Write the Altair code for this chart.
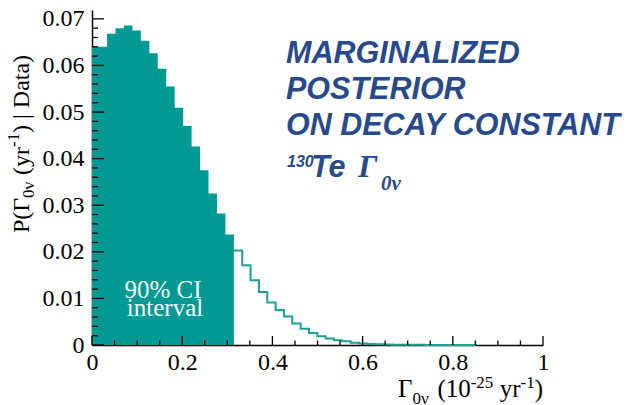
import altair as alt
import pandas as pd

# ---------------- data ----------------
ci_edges = [0.0, 0.0333, 0.0521, 0.0708, 0.0896, 0.1083, 0.1271, 0.1458, 0.1646,
            0.1833, 0.2021, 0.2208, 0.2396, 0.2583, 0.2771, 0.2958, 0.3146]
ci_heights = [0.0640, 0.0668, 0.0680, 0.0686, 0.0675, 0.0653, 0.0626, 0.0593,
              0.0555, 0.0509, 0.0470, 0.0426, 0.0375, 0.0325, 0.0282, 0.0237]

tail_edges = [0.3146, 0.3331, 0.3516, 0.3701, 0.3886, 0.4071, 0.4256, 0.4441,
              0.4626, 0.4811, 0.4996, 0.5181, 0.5366, 0.5551, 0.5736, 0.5921,
              0.6106, 0.6291, 0.6476, 0.6661, 0.6846, 0.7031, 0.7216, 0.7401,
              0.7586, 0.7771, 0.7956, 0.8141, 0.8326, 0.8511]
tail_heights = [0.0203, 0.0171, 0.0139, 0.0114, 0.0091, 0.0075, 0.0061, 0.0046,
                0.0035, 0.0026, 0.0019, 0.0014, 0.0010, 0.0008, 0.0005, 0.0003,
                0.0002, 0.00015, 0.0001, 0.00008, 0.00006, 0.00004, 0.00003,
                0.00002, 0.00002, 0.00001, 0.00001, 0.00001, 0.00001]

y_major = [0, 0.01, 0.02, 0.03, 0.04, 0.05, 0.06, 0.07]
y_minor = [0.002, 0.004, 0.006, 0.008, 0.012, 0.014, 0.016, 0.018, 0.022, 0.024,
           0.026, 0.028, 0.032, 0.034, 0.036, 0.038, 0.042, 0.044, 0.046, 0.048,
           0.052, 0.054, 0.056, 0.058, 0.062, 0.064, 0.066, 0.068]
x_major = [0, 0.2, 0.4, 0.6, 0.8, 1.0]
x_minor = [0.05, 0.1, 0.15, 0.25, 0.3, 0.35, 0.45, 0.5, 0.55, 0.65, 0.7, 0.75,
           0.85, 0.9, 0.95]

# ---------------- layout ----------------
X0, Y0 = 92, 10          # plot origin in the page
W, H = 451, 335
FILL = "#009994"
LINE = "#1f9f99"
BLUE = "#284a8c"
SERIF = "Liberation Serif"
SANS = "Liberation Sans"

xscale = alt.Scale(domain=[0, 1], nice=False, zero=False)
yscale = alt.Scale(domain=[0, 0.0719], nice=False, zero=True)

fill_df = pd.DataFrame({
    "x": ci_edges,
    "h": ci_heights + [ci_heights[-1]],
})
line_df = pd.DataFrame({
    "x": tail_edges,
    "h": tail_heights + [0.0],
    "o": list(range(len(tail_edges))),
})

fill = alt.Chart(fill_df).mark_area(color=FILL, opacity=1, interpolate="step-after").encode(
    x=alt.X("x:Q", scale=xscale, title=None,
            axis=alt.Axis(values=x_major, ticks=False, grid=False,
                          domainColor="black", domainWidth=1.5,
                          labelFont=SERIF, labelFontSize=24, labelColor="black",
                          labelPadding=5, labelFlush=False, labelOverlap=False,
                          labelExpr="datum.value == 0 ? '0' : (datum.value == 1 ? '1' : format(datum.value, '.1f'))")),
    y=alt.Y("h:Q", scale=yscale, title=None, stack=None,
            axis=alt.Axis(values=y_major, ticks=False, grid=False,
                          domainColor="black", domainWidth=1.5,
                          labelFont=SERIF, labelFontSize=24, labelColor="black",
                          labelPadding=8, labelFlush=False, labelOverlap=False,
                          labelExpr="datum.value == 0 ? '0' : format(datum.value, '.2f')")),
)

step = alt.Chart(line_df).mark_line(color=LINE, strokeWidth=2, interpolate="step-after").encode(
    x=alt.X("x:Q", scale=xscale), y=alt.Y("h:Q", scale=yscale), order="o:Q"
)

def yticks(vals, length):
    return alt.Chart(pd.DataFrame({"v": vals})).mark_rule(color="black", strokeWidth=1.3).encode(
        y=alt.Y("v:Q", scale=yscale), x=alt.value(0), x2=alt.value(length))

def xticks(vals, length):
    return alt.Chart(pd.DataFrame({"v": vals})).mark_rule(color="black", strokeWidth=1.3).encode(
        x=alt.X("v:Q", scale=xscale), y=alt.value(H), y2=alt.value(H - length))

layers = [fill, step, yticks(y_major, 12), yticks(y_minor, 6),
          xticks(x_major, 9), xticks(x_minor, 4.5)]

# text pieces: (text, abs_x, abs_y, size, font, style, weight, color, angle, align)
texts = [
    # CI label
    ("90% CI", 163, 298, 25, SERIF, "normal", "normal", "white", 0, "center"),
    ("interval", 165, 316, 25, SERIF, "normal", "normal", "white", 0, "center"),
    # x title
    ("\u0393", 398, 397, 25, SERIF, "normal", "normal", "black", 0, "left"),
    ("0\u03bd", 412.5, 404, 17, SERIF, "normal", "normal", "black", 0, "left"),
    ("(10", 437.4, 397, 25, SERIF, "normal", "normal", "black", 0, "left"),
    ("-25", 470.7, 388, 17, SERIF, "normal", "normal", "black", 0, "left"),
    ("yr", 499.7, 397, 25, SERIF, "normal", "normal", "black", 0, "left"),
    ("-1", 520.5, 388, 17, SERIF, "normal", "normal", "black", 0, "left"),
    (")", 534.7, 397, 25, SERIF, "normal", "normal", "black", 0, "left"),
    # y title (rotated, reading upward)
    ("P(\u0393", 29, 233, 24, SERIF, "normal", "normal", "black", 270, "left"),
    ("0\u03bd", 34, 198, 17, SERIF, "normal", "normal", "black", 270, "left"),
    ("(yr", 29, 175, 24, SERIF, "normal", "normal", "black", 270, "left"),
    ("-1", 19, 147, 17, SERIF, "normal", "normal", "black", 270, "left"),
    (") | Data)", 29, 133, 24, SERIF, "normal", "normal", "black", 270, "left"),
    # headline
    ("MARGINALIZED", 286, 63.3, 30.5, SANS, "italic", "bold", BLUE, 0, "left"),
    ("POSTERIOR", 286, 99.3, 30.5, SANS, "italic", "bold", BLUE, 0, "left"),
    ("ON DECAY CONSTANT", 286, 135, 30.5, SANS, "italic", "bold", BLUE, 0, "left"),
    ("130", 287, 166.5, 16, SANS, "italic", "bold", BLUE, 0, "left"),
    ("Te", 311, 176.7, 30.5, SANS, "italic", "bold", BLUE, 0, "left"),
    ("\u0393", 358, 176.7, 32, SERIF, "italic", "bold", BLUE, 0, "left"),
    ("0\u03bd", 381, 190, 21, SERIF, "italic", "bold", BLUE, 0, "left"),
]

for (t, ax, ay, size, font, style, weight, color, angle, align) in texts:
    layers.append(
        alt.Chart(pd.DataFrame({"t": [t]})).mark_text(
            font=font, fontSize=size, fontStyle=style, fontWeight=weight,
            color=color, angle=angle, align=align, baseline="alphabetic",
        ).encode(text="t:N", x=alt.value(ax - X0), y=alt.value(ay - Y0))
    )

chart = alt.layer(*layers).properties(
    width=W, height=H,
    autosize=alt.AutoSizeParams(type="none"),
    padding={"left": X0, "top": Y0, "right": 639 - X0 - W, "bottom": 405 - Y0 - H},
    background="white",
).configure_view(stroke=None)

chart.save("out.html", embed_options={"renderer": "svg", "actions": False})
